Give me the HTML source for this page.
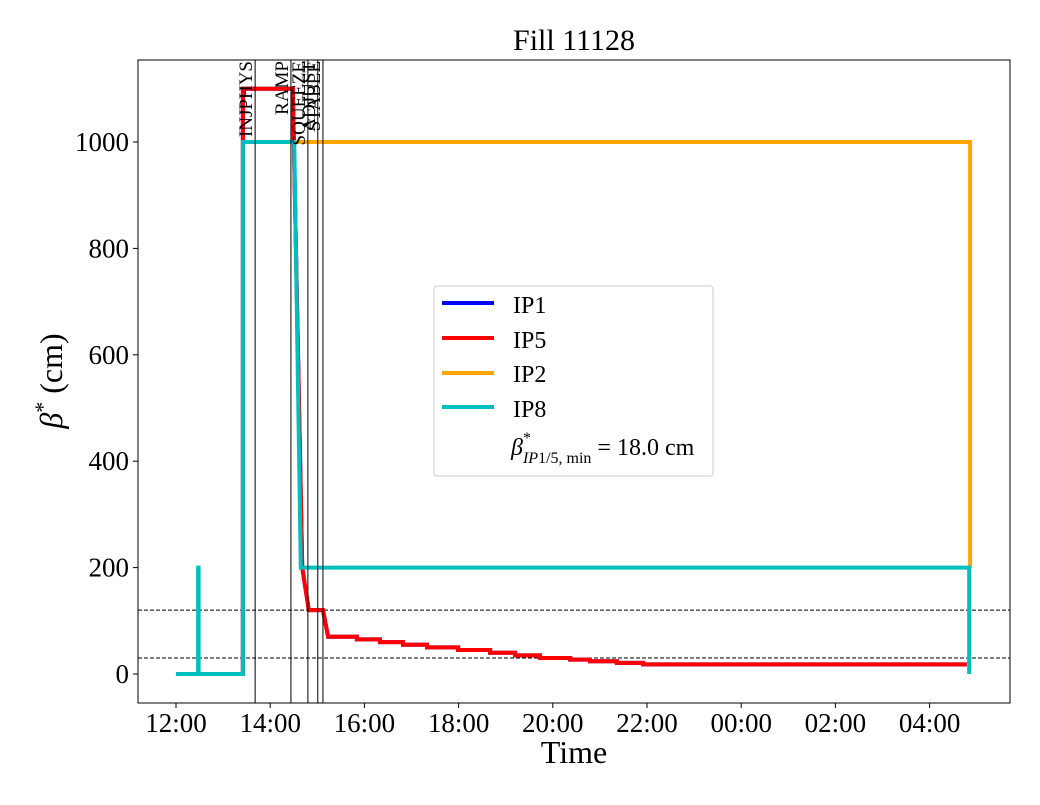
<!DOCTYPE html>
<html><head><meta charset="utf-8"><style>
body{margin:0;background:#fff;width:1040px;height:800px;overflow:hidden}
text{font-family:"Liberation Serif",serif;fill:#000}
</style></head><body>
<svg id="chart" width="1040" height="800" xmlns="http://www.w3.org/2000/svg">
<text x="574" y="50" font-size="30" text-anchor="middle">Fill 11128</text>
<text x="574" y="763" font-size="32" text-anchor="middle">Time</text>
<text transform="translate(62,381) rotate(-90)" font-size="32" text-anchor="middle"><tspan font-style="italic">β</tspan><tspan dy="-12" font-size="22">*</tspan><tspan dy="12"> (cm)</tspan></text>
<g id="plot"></g>
<rect x="138" y="60" width="872" height="643" fill="none" stroke="#000" stroke-width="1"/>
<g>
<rect x="434" y="286" width="279" height="190" rx="3" fill="#fff" stroke="#ccc"/>
<line x1="442" y1="303" x2="494" y2="303" stroke="#0000ff" stroke-width="4"/>
<text x="513" y="313" font-size="24">IP1</text>
<line x1="442" y1="338" x2="494" y2="338" stroke="#ff0000" stroke-width="4"/>
<text x="513" y="348" font-size="24">IP5</text>
<line x1="442" y1="373" x2="494" y2="373" stroke="#ffa500" stroke-width="4"/>
<text x="513" y="382" font-size="24">IP2</text>
<line x1="442" y1="407" x2="494" y2="407" stroke="#00bfbf" stroke-width="4"/>
<text x="513" y="417" font-size="24">IP8</text>
<text x="511" y="455" font-size="24"><tspan font-style="italic">β</tspan><tspan dy="-12" font-size="16">*</tspan><tspan dx="-8" dy="20" font-size="16" font-style="italic">IP</tspan><tspan font-size="16">1/5, min</tspan><tspan dy="-8"> = 18.0 cm</tspan></text>
</g>
</svg>
<script>
const xTickLabels=["12:00","14:00","16:00","18:00","20:00","22:00","00:00","02:00","04:00"];
const xTickHours=[0,2,4,6,8,10,12,14,16];
const yTicks=[0,200,400,600,800,1000];
const refLevels=[120,30];
const modeNames=["INJPHYS","RAMP","SQUEEZE","ADJUST","STABLE"];
const modeHours=[1.68,2.44,2.80,3.01,3.12];
const ip15Hours=[0,1.42,1.42,2.48,2.68,2.82,2.82,3.12,3.23,3.84,3.84,4.33,4.33,4.82,4.82,5.33,5.33,5.99,5.99,6.67,6.67,7.20,7.20,7.73,7.73,8.37,8.37,8.79,8.79,9.36,9.36,9.92,9.92,16.79];
const ip15Vals=[0,0,1100,1100,200,120,120,120,70,70,65,65,60,60,55,55,50,50,45,45,40,40,35,35,30,30,27,27,24,24,21,21,18,18];
const ip2Hours=[1.42,2.51,16.86,16.86];
const ip2Vals=[1000,1000,1000,200];
const ip8Hours=[0,0.47,0.47,0.48,0.48,1.42,1.42,2.51,2.65,16.84,16.84];
const ip8Vals=[0,0,200,200,0,0,1000,1000,200,200,0];

const X=h=>176+h*47.1;
const Y=v=>674-v*0.532;
const NS="http://www.w3.org/2000/svg";
const svg=document.getElementById('chart');
const plot=document.getElementById('plot');
function mk(tag,attrs,parent){const e=document.createElementNS(NS,tag);for(const k in attrs)e.setAttribute(k,attrs[k]);(parent||plot).appendChild(e);return e;}
xTickHours.forEach((h,i)=>{
 const t=mk('line',{x1:X(h),x2:X(h),y1:703,y2:708,stroke:'#000'},svg);
 
 
 const l=mk('text',{x:X(h),y:732,'font-size':27,'text-anchor':'middle'},svg);l.textContent=xTickLabels[i];
 
 
});
yTicks.forEach(v=>{
 const t=mk('line',{x1:133,x2:138,y1:Y(v),y2:Y(v),stroke:'#000'},svg);
 
 
 const l=mk('text',{x:129,y:Y(v)+9,'font-size':27,'text-anchor':'end'},svg);l.textContent=v;
 
 
});
refLevels.forEach(v=>{
 const l=mk('line',{x1:138,x2:1010,y1:Y(v),y2:Y(v),stroke:'#000','stroke-width':1,'stroke-dasharray':'4,2'});
 
 
});
function series(hs,vs,color,name){
 const p=mk('polyline',{points:hs.map((h,i)=>X(h)+','+Y(vs[i])).join(' '),fill:'none',stroke:color,'stroke-width':4,'stroke-linejoin':'miter'});
 
 
}
series(ip2Hours,ip2Vals,'#ffa500','ip2-line');
series(ip15Hours,ip15Vals,'#0000ff','ip1-line');
series(ip15Hours,ip15Vals,'#ff0000','ip5-line');
series(ip8Hours,ip8Vals,'#00bfbf','ip8-line');
modeHours.forEach((h,i)=>{
 const l=mk('line',{x1:X(h),x2:X(h),y1:60,y2:703,stroke:'#000','stroke-width':1});
 
 
 const t=mk('text',{transform:`translate(${X(h)-3},61) rotate(-90)`,'font-size':19,'text-anchor':'end'});
 t.textContent=modeNames[i];
 
 
});
</script>
</body></html>
